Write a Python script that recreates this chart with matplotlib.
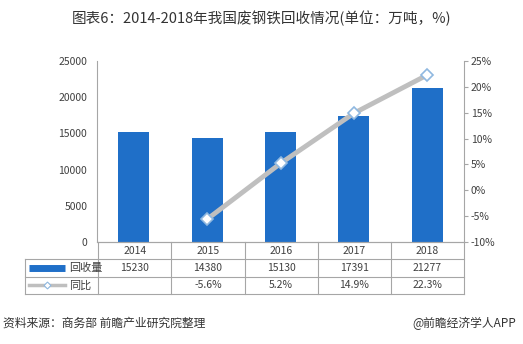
import numpy as np
import matplotlib.pyplot as plt
from matplotlib.lines import Line2D

plt.rcParams['font.family'] = ['Noto Sans CJK SC', 'DejaVu Sans']

years = ['2014', '2015', '2016', '2017', '2018']
volume = [15230, 14380, 15130, 17391, 21277]
yoy = [np.nan, -5.6, 5.2, 14.9, 22.3]
yoy_labels = ['', '-5.6%', '5.2%', '14.9%', '22.3%']

bar_color = '#1F6FC8'
line_color = '#BFBFBF'
grid_color = '#A6A6A6'
text_color = '#404040'

W, H = 523, 344
fig = plt.figure(figsize=(W / 100, H / 100), dpi=100)

def fx(px):
    return px / W

def fy(py):
    return 1 - py / H

x = np.arange(len(years))
ax = fig.add_axes([fx(97), fy(242), fx(464) - fx(97), fy(61) - fy(242)])
ax.bar(x, volume, width=0.42, color=bar_color, zorder=2)
ax.set_xlim(-0.5, len(years) - 0.5)
ax.set_ylim(0, 25000)
ax.set_yticks(range(0, 25001, 5000))
ax.tick_params(axis='y', length=0, labelsize=7.5, colors=text_color, pad=7)
ax.set_xticks([])
for s in ['top', 'right']:
    ax.spines[s].set_visible(False)
for s in ['left', 'bottom']:
    ax.spines[s].set_color(grid_color)
    ax.spines[s].set_linewidth(0.8)

ax2 = ax.twinx()
ax2.plot(x, yoy, color=line_color, lw=3.5, marker='D', markersize=6.5,
         markerfacecolor='white', markeredgecolor='#8FB8E0', markeredgewidth=1.2, zorder=3)
ax2.set_ylim(-10, 25)
ax2.set_yticks(range(-10, 26, 5))
ax2.set_yticklabels([f'{v}%' for v in range(-10, 26, 5)])
ax2.tick_params(axis='y', length=3, labelsize=7.5, colors=text_color, pad=2)
ax2.tick_params(axis='y', color=grid_color)
for s in ['top', 'left', 'bottom']:
    ax2.spines[s].set_visible(False)
ax2.spines['right'].set_color(grid_color)
ax2.spines['right'].set_linewidth(0.8)

# data table below the plot
tab = fig.add_axes([fx(25), fy(294), fx(464) - fx(25), fy(242) - fy(294)])
tab.set_xlim(-1.5, len(years) - 0.5)
tab.set_ylim(0, 3)
tab.axis('off')
lw = 0.8
for yv in [0, 1, 2]:
    tab.plot([-1.5, len(years) - 0.5], [yv, yv], color=grid_color, lw=lw, clip_on=False)
tab.plot([-0.5, len(years) - 0.5], [3, 3], color=grid_color, lw=lw, clip_on=False)
tab.plot([-1.5, -1.5], [0, 2], color=grid_color, lw=lw, clip_on=False)
for xv in np.arange(-0.5, len(years), 1):
    tab.plot([xv, xv], [0, 3], color=grid_color, lw=lw, clip_on=False)

for i in range(len(years)):
    tab.text(i, 2.5, years[i], ha='center', va='center', fontsize=7.5, color=text_color)
    tab.text(i, 1.5, str(volume[i]), ha='center', va='center', fontsize=7.5, color=text_color)
    tab.text(i, 0.5, yoy_labels[i], ha='center', va='center', fontsize=7.5, color=text_color)

tab.add_line(Line2D([-1.44, -0.95], [1.5, 1.5], color=bar_color, lw=5, solid_capstyle='butt'))
tab.text(-0.9, 1.5, '回收量', ha='left', va='center', fontsize=8, color=text_color)
tab.add_line(Line2D([-1.44, -0.95], [0.5, 0.5], color=line_color, lw=2.5))
tab.plot([-1.195], [0.5], marker='D', markersize=3.5, markerfacecolor='white',
         markeredgecolor='#8FB8E0', markeredgewidth=0.8)
tab.text(-0.9, 0.5, '同比', ha='left', va='center', fontsize=8, color=text_color)

fig.text(0.5, fy(18), '图表6：2014-2018年我国废钢铁回收情况(单位：万吨，%)',
         ha='center', va='center', fontsize=10.5, color='#333333')
fig.text(fx(3), fy(323), '资料来源：商务部 前瞻产业研究院整理', ha='left', va='center',
         fontsize=8.5, color='#333333', style='italic')
fig.text(fx(516), fy(323), '@前瞻经济学人APP', ha='right', va='center',
         fontsize=8.5, color='#333333')

fig.savefig('out.png', dpi=100)
